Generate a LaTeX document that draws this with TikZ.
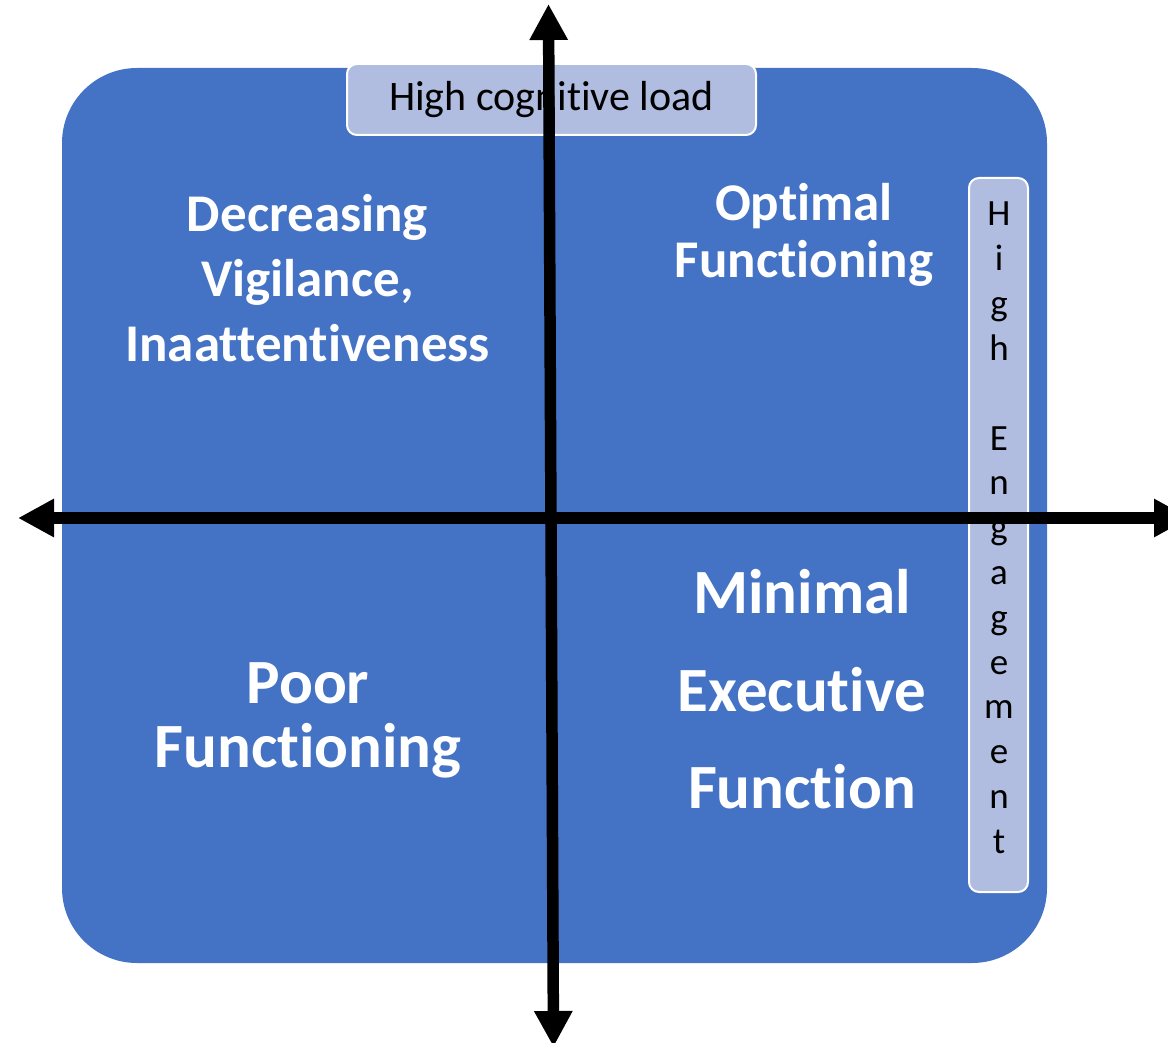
\documentclass[tikz,border=0pt]{standalone}
\usepackage{fontspec}
\setmainfont{Carlito}[Ligatures={NoCommon}]
\usetikzlibrary{arrows.meta}
\definecolor{panelblue}{HTML}{4472C4}
\definecolor{tagfill}{HTML}{B0BDE0}
\tikzset{
  panel/.style={fill=panelblue, draw=none, rounded corners=75pt},
  tagbox/.style={fill=tagfill, draw=white, line width=2pt, rounded corners=10pt, inner sep=0pt},
  tagtext/.style={text=black, inner sep=0pt, font=\fontsize{42}{50}\selectfont},
  tagletter/.style={text=black, inner sep=0pt, anchor=base, font=\fontsize{37}{44}\selectfont},
  quadsmall/.style={text=white, inner sep=0pt, anchor=base, font=\bfseries\fontsize{53}{62}\selectfont},
  quadlarge/.style={text=white, inner sep=0pt, anchor=base, font=\bfseries\fontsize{63}{74}\selectfont},
  axis/.style={line width=11.5pt, draw=black,
    {Triangle[width=36pt,length=36pt]}-{Triangle[width=36pt,length=36pt]}}
}
\begin{document}
\begin{tikzpicture}[x=1pt,y=-1pt]
\useasboundingbox (0,0) rectangle (1168,1043);

% background panel
\fill[panel] (62,68) rectangle (1047,963);

% axis labels
\node[tagbox, minimum width=409pt, minimum height=71pt] (loadbox) at (551.5,99.5) {};
\node[tagtext] (loadtext) at (551.5,99.5) {High cognitive load};

\node[tagbox, minimum width=59pt, minimum height=714pt] (engbox) at (998.5,535) {};
\foreach \k/\ch in {0/H,1/i,2/g,3/h,5/E,6/n,7/g,8/a,9/g,10/e,11/m,12/e,13/n,14/t}
  \node[tagletter] (eng\k) at (999,226+44.8*\k) {\ch};

% quadrant labels
\node[quadsmall] (dv1) at (307.5,232) {Decreasing};
\node[quadsmall] (dv2) at (307.5,297) {Vigilance,};
\node[quadsmall] (dv3) at (307.5,361) {Inaattentiveness};

\node[quadsmall] (of1) at (804,221) {Optimal};
\node[quadsmall] (of2) at (804,277) {Functioning};

\node[quadlarge] (pf1) at (308,703) {Poor};
\node[quadlarge] (pf2) at (308,767) {Functioning};

\node[quadlarge] (me1) at (802,613) {Minimal};
\node[quadlarge] (me2) at (802,711) {Executive};
\node[quadlarge] (me3) at (802,808) {Function};

% axes
\coordinate (xleft) at (18,518);
\coordinate (xright) at (1190,518);
\coordinate (ytop) at (548.5,4);
\coordinate (ybottom) at (553.5,1047);
\draw[axis] (xleft) -- (xright);
\draw[axis] (ytop) -- (ybottom);
\end{tikzpicture}
\end{document}
